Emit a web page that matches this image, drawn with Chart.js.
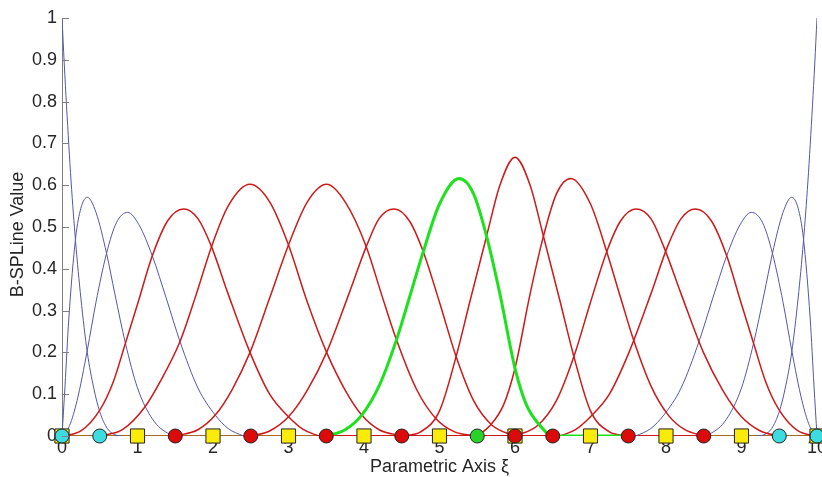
<!DOCTYPE html>
<html>
<head>
<meta charset="utf-8">
<script src="https://cdn.jsdelivr.net/npm/chart.js@4.4.0/dist/chart.umd.min.js"></script>
<style>
  html, body { margin: 0; padding: 0; background: #fff; overflow: hidden; }
  #wrap { width: 822px; height: 477px; }
</style>
</head>
<body>
<div id="wrap"><canvas id="bspline"></canvas></div>
<script>
// basis curves as [xi, value] pairs
const blue1 = [[0,1],[0.03,0.89],[0.06,0.79],[0.12,0.61],[0.18,0.465],[0.25,0.33],[0.335,0.2],[0.42,0.115],[0.5,0.058],[0.6,0.018],[0.7,0.003],[0.8,0]];
const blue2 = [[0,0],[0.04,0.12],[0.09,0.28],[0.18,0.473],[0.25,0.545],[0.335,0.571],[0.45,0.535],[0.59,0.437],[0.7,0.34],[0.84,0.222],[1.0,0.115],[1.2,0.04],[1.4,0.007],[1.6,0]];
const blue3 = [[0,0],[0.1,0.025],[0.2,0.085],[0.335,0.205],[0.45,0.32],[0.59,0.437],[0.72,0.51],[0.87,0.535],[1.02,0.505],[1.196,0.431],[1.38,0.33],[1.563,0.226],[1.8,0.115],[2.03,0.05],[2.2,0.018],[2.4,0]];
const red4 = [[0,0],[0.25,0.012],[0.5,0.062],[0.68,0.13],[0.84,0.222],[1.0,0.315],[1.196,0.431],[1.4,0.515],[1.61,0.543],[1.8,0.52],[1.98,0.453],[2.2,0.34],[2.49,0.2],[2.75,0.1],[3.0,0.046],[3.2,0.015],[3.4,0]];
const red5 = [[0.5,0],[0.8,0.015],[1.1,0.07],[1.3,0.13],[1.563,0.226],[1.78,0.34],[1.98,0.453],[2.2,0.55],[2.49,0.602],[2.75,0.56],[3.0,0.457],[3.25,0.32],[3.505,0.2],[3.75,0.11],[3.97,0.05],[4.2,0.015],[4.5,0]];
const red6 = [[1.5,0],[1.8,0.015],[2.03,0.05],[2.25,0.11],[2.49,0.2],[2.75,0.33],[3.0,0.457],[3.25,0.56],[3.505,0.602],[3.75,0.56],[4.03,0.453],[4.23,0.34],[4.43,0.23],[4.7,0.11],[4.96,0.04],[5.2,0.01],[5.5,0]];
const red7 = [[2.5,0],[2.75,0.012],[3.0,0.046],[3.25,0.11],[3.505,0.2],[3.8,0.34],[4.03,0.453],[4.2,0.52],[4.4,0.543],[4.6,0.515],[4.785,0.441],[5.0,0.32],[5.22,0.19],[5.45,0.085],[5.7,0.025],[6.0,0]];
const green8 = [[3.5,0],[3.75,0.015],[3.97,0.05],[4.2,0.12],[4.43,0.23],[4.6,0.33],[4.785,0.441],[5.0,0.555],[5.26,0.616],[5.45,0.58],[5.625,0.477],[5.8,0.34],[6.0,0.162],[6.15,0.075],[6.33,0.025],[6.5,0],[7.5,0]];
const red9 = [[4.5,0],[4.75,0.01],[5.0,0.06],[5.22,0.19],[5.4,0.32],[5.625,0.479],[5.8,0.6],[6.0,0.667],[6.2,0.6],[6.375,0.479],[6.6,0.32],[6.78,0.19],[7.0,0.06],[7.25,0.01],[7.5,0]];
const red10 = [[5.5,0],[5.67,0.025],[5.85,0.075],[6.0,0.162],[6.2,0.34],[6.375,0.477],[6.55,0.58],[6.74,0.616],[7.0,0.555],[7.215,0.441],[7.4,0.33],[7.57,0.23],[7.8,0.12],[8.03,0.05],[8.25,0.015],[8.5,0]];
const red11 = [[6.0,0],[6.3,0.025],[6.55,0.085],[6.78,0.19],[7.0,0.32],[7.215,0.441],[7.4,0.515],[7.6,0.543],[7.8,0.52],[7.97,0.453],[8.2,0.34],[8.495,0.2],[8.75,0.11],[9.0,0.046],[9.25,0.012],[9.5,0]];
const red12 = [[6.6,0],[6.8,0.015],[7.0,0.046],[7.25,0.1],[7.51,0.2],[7.8,0.34],[8.02,0.453],[8.2,0.52],[8.39,0.543],[8.6,0.515],[8.804,0.431],[9.0,0.315],[9.16,0.222],[9.32,0.13],[9.5,0.062],[9.75,0.012],[10,0]];
const blue13 = [[7.6,0],[7.8,0.018],[7.97,0.05],[8.2,0.115],[8.437,0.226],[8.62,0.33],[8.804,0.431],[8.98,0.505],[9.13,0.535],[9.28,0.51],[9.41,0.437],[9.55,0.32],[9.665,0.205],[9.8,0.085],[9.9,0.025],[10,0]];
const blue14 = [[8.4,0],[8.6,0.007],[8.8,0.04],[9.0,0.115],[9.16,0.222],[9.3,0.34],[9.41,0.437],[9.55,0.535],[9.665,0.571],[9.75,0.545],[9.82,0.473],[9.91,0.28],[9.96,0.12],[10,0]];
const blue15 = [[9.2,0],[9.3,0.003],[9.4,0.018],[9.5,0.058],[9.58,0.115],[9.665,0.2],[9.75,0.33],[9.82,0.465],[9.88,0.61],[9.94,0.79],[9.97,0.89],[10,1]];

// markers sitting on the axis
const squareKnots = [0,1,2,3,4,5,6,7,8,9,10];
const cyanKnots = [0,0.5,9.5,10];
const redKnots = [1.5,2.5,3.5,4.5,6,6.5,7.5,8.5];
const greenKnots = [5.5];

const xTicks = [0,1,2,3,4,5,6,7,8,9,10];
const yTicks = [0,0.1,0.2,0.3,0.4,0.5,0.6,0.7,0.8,0.9,1];

const BLUE = 'rgb(85,85,170)';
const RED = 'rgb(205,25,25)';
const GREEN = 'rgb(30,225,30)';

function pts(arr) { return arr.map(p => ({x: p[0], y: p[1]})); }
function onAxis(arr) { return arr.map(v => ({x: v, y: 0})); }

function curve(arr, color, width, order) {
    return {
        type: 'line',
        data: pts(arr),
        borderColor: color,
        borderWidth: width,
        pointRadius: 0,
        fill: false,
        cubicInterpolationMode: 'monotone',
        order: order
    };
}

function marks(arr, style, radius, fillColor, order) {
    return {
        type: 'scatter',
        data: onAxis(arr),
        pointStyle: style,
        pointRadius: radius,
        pointHoverRadius: radius,
        pointBackgroundColor: fillColor,
        pointBorderColor: '#222',
        pointBorderWidth: 1,
        clip: false,
        order: order
    };
}

const datasets = [
    marks(cyanKnots, 'circle', 7, 'rgb(60,220,225)', 1),
    marks(redKnots, 'circle', 7, 'rgb(220,10,10)', 1),
    marks(greenKnots, 'circle', 7, 'rgb(40,210,40)', 1),
    marks(squareKnots, 'rect', 10, 'rgb(250,235,10)', 2),
    curve(green8, GREEN, 3, 5),
    curve(red4, RED, 1.5, 8), curve(red5, RED, 1.5, 8), curve(red6, RED, 1.5, 8),
    curve(red7, RED, 1.5, 8), curve(red9, RED, 1.5, 8), curve(red10, RED, 1.5, 8),
    curve(red11, RED, 1.5, 8), curve(red12, RED, 1.5, 8),
    curve(blue1, BLUE, 1, 9), curve(blue2, BLUE, 1, 9), curve(blue3, BLUE, 1, 9),
    curve(blue13, BLUE, 1, 9), curve(blue14, BLUE, 1, 9), curve(blue15, BLUE, 1, 9),
    // zero line along the axis
    { type: 'line', data: pts([[3.5,0],[8.5,0]]), borderColor: RED, borderWidth: 2, pointRadius: 0, order: 12 },
    { type: 'line', data: pts([[0,0],[10,0]]), borderColor: 'rgb(165,105,40)', borderWidth: 2, pointRadius: 0, order: 13 }
];

// inward tick marks like the original plot
const innerTicks = {
    id: 'innerTicks',
    afterDatasetsDraw(chart) {
        const ctx = chart.ctx;
        const y = chart.scales.y, x = chart.scales.x;
        ctx.save();
        ctx.strokeStyle = '#808080';
        ctx.lineWidth = 1;
        ctx.beginPath();
        yTicks.forEach(v => {
            const py = Math.round(y.getPixelForValue(v)) + 0.5;
            ctx.moveTo(x.left, py);
            ctx.lineTo(x.left + 7, py);
        });
        ctx.stroke();
        ctx.restore();
    }
};

new Chart(document.getElementById('bspline'), {
    type: 'scatter',
    data: { datasets: datasets },
    options: {
        responsive: true,
        maintainAspectRatio: false,
        animation: false,
        events: [],
        layout: { autoPadding: false, padding: { top: 18, right: 5, left: 0, bottom: 0 } },
        plugins: { legend: { display: false }, tooltip: { enabled: false } },
        scales: {
            x: {
                type: 'linear',
                min: 0, max: 10,
                afterBuildTicks(scale) { scale.ticks = xTicks.map(v => ({value: v})); },
                afterFit(scale) { scale.height = 41; scale.paddingLeft = 0; scale.paddingRight = 0; },
                grid: { display: false, drawTicks: false },
                border: { display: false },
                ticks: { padding: 1, color: '#262626', font: { family: 'Liberation Sans', size: 18 }, maxRotation: 0 },
                title: { display: true, text: 'Parametric Axis ξ', color: '#262626', font: { family: 'Liberation Sans', size: 18, lineHeight: 1 }, padding: { top: 0, bottom: 1 } }
            },
            y: {
                type: 'linear',
                min: 0, max: 1,
                afterBuildTicks(scale) { scale.ticks = yTicks.map(v => ({value: v})); },
                afterFit(scale) { scale.width = 62; },
                grid: { display: false, drawTicks: false },
                border: { display: true, color: '#808080', width: 1 },
                ticks: { padding: 5, color: '#262626', font: { family: 'Liberation Sans', size: 18 },
                         callback: v => String(Math.round(v * 10) / 10) },
                title: { display: true, text: 'B-SPLine Value   ', color: '#262626', font: { family: 'Liberation Sans', size: 18, lineHeight: 1 }, padding: { top: 9, bottom: 0 } }
            }
        }
    },
    plugins: [innerTicks]
});
</script>
</body>
</html>
